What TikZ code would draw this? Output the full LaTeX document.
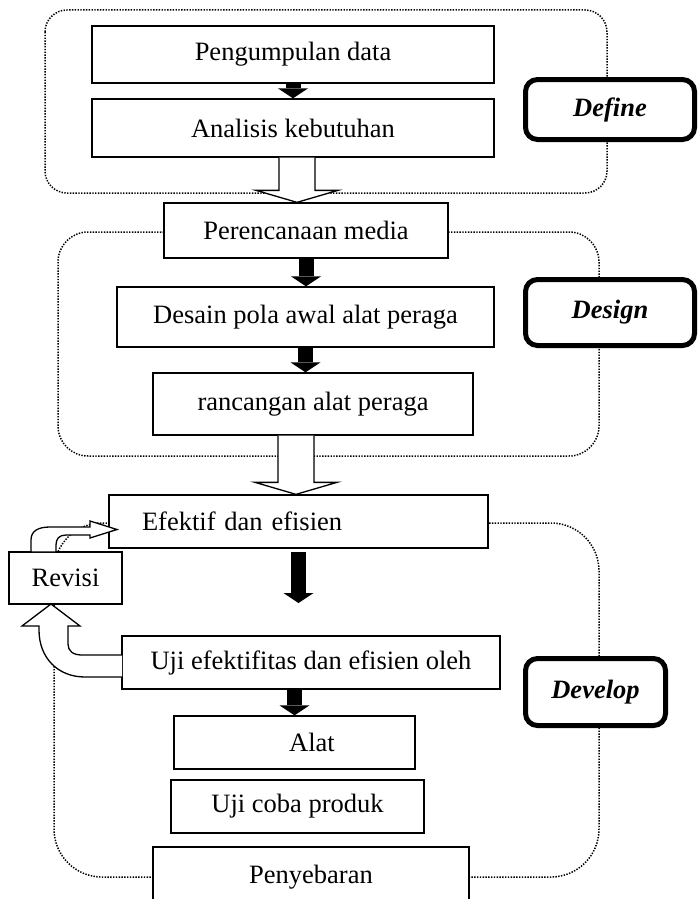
\documentclass[tikz,border=0pt]{standalone}
\usepackage{fontspec}
\setmainfont{Liberation Serif}
\usetikzlibrary{calc,arrows.meta}

% hollow block arrow: from, to, x shift
\newcommand{\blockarrow}[3]{%
  \draw[hollow arrow] ($(#1)+(#3-18,0)$) -- ($(#1 |- #2)+(#3-18,-12)$) -- ($(#1 |- #2)+(#3-41,-12)$)
    -- ($(#1 |- #2)+(#3,0)$) -- ($(#1 |- #2)+(#3+41,-12)$) -- ($(#1 |- #2)+(#3+18,-12)$) -- ($(#1)+(#3+18,0)$);}

\begin{document}
\begin{tikzpicture}[x=1pt,y=-1pt]
        % Styles
        \tikzstyle{process box}=[draw,line width=1.3pt,fill=white,minimum height=55pt,inner sep=2pt,font=\fontsize{26.5}{30}\selectfont]
        \tikzstyle{phase box}=[draw,line width=5pt,rounded corners=12pt,fill=white,font=\fontsize{26.5}{30}\selectfont\bfseries\itshape]
        \tikzstyle{phase group}=[line width=1.5pt,dash pattern=on 1.4pt off 1.4pt]
        \tikzstyle{solid arrow}=[line width=15pt,-{Triangle[length=10pt,width=30pt,line width=0pt]}]
        \tikzstyle{hollow arrow}=[draw,line width=1.3pt,fill=white]
        \useasboundingbox (0,0) rectangle (698,899);
        \clip (0,0) rectangle (698,899);
        %groups
        \draw[phase group,rounded corners=22pt] (45,10) rectangle (607,193);
        \draw[phase group,rounded corners=30pt] (58,232) rectangle (599,456);
        \draw[phase group,rounded corners=48pt] (54,523) rectangle (599,877);
        %steps
        \node[process box,minimum width=402pt,minimum height=57pt] (pengumpulan) at (293,54.5) {Pengumpulan data};
        \node[process box,minimum width=402pt,minimum height=58pt] (analisis) at (293,128) {Analisis kebutuhan};
        \node[process box,minimum width=284pt] (perencanaan) at (306,230.5) {Perencanaan media};
        \node[process box,minimum width=377pt,minimum height=60pt] (desain) at (305.5,317) {Desain pola awal alat peraga};
        \node[process box,minimum width=320pt,minimum height=62pt] (rancangan) at (313,404) {rancangan alat peraga};
        \node[process box,minimum width=379pt,minimum height=53pt,text width=313pt,inner xsep=33pt,align=left] (efektif) at (298.5,521.5) {Efektif dan efisien};
        \node[process box,minimum width=113pt,minimum height=52pt] (revisi) at (65.5,578) {Revisi};
        \node[process box,minimum width=378pt,minimum height=53pt] (ujiefektifitas) at (311,662.5) {Uji efektifitas dan efisien oleh};
        \node[process box,minimum width=241pt,minimum height=53pt] (alat) at (294.5,742.5) {\hspace*{35pt}Alat};
        \node[process box,minimum width=253pt,minimum height=53pt] (ujicoba) at (297.5,806.5) {Uji coba produk};
        \node[process box,minimum width=316pt,minimum height=60pt] (penyebaran) at (311,877) {Penyebaran};
        %phases
        \node[phase box,minimum width=169pt,minimum height=60pt] (define) at (610,109.5) {Define};
        \node[phase box,minimum width=169pt,minimum height=66pt] (design) at (610,312.5) {Design};
        \node[phase box,minimum width=140pt,minimum height=67pt] (develop) at (595.5,692) {Develop};
        %arrows
        \coordinate (efektif start) at (298.5,552);
        \coordinate (efektif end) at (298.5,603);
        \draw[solid arrow] (pengumpulan.south) -- (analisis.north);
        \draw[solid arrow] (perencanaan.south) -- (perencanaan.south |- desain.north);
        \draw[solid arrow] (desain.south) -- (desain.south |- rancangan.north);
        \draw[solid arrow] (efektif start) -- (efektif end);
        \draw[solid arrow] (ujiefektifitas.south -| alat.north) -- (alat.north);
        \blockarrow{analisis.south}{perencanaan.north}{4}
        \blockarrow{rancangan.south}{efektif.north}{-17}
        %revisi loop
        \draw[hollow arrow] (122,677) -- (85,677) .. controls (58,677) and (39,658) .. (39,630) -- (39,626) -- (22,626) -- (51,604)
            -- (80,626) -- (68,626) -- (68,644) .. controls (68,651) and (73,655) .. (82,655) -- (122,655);
        \draw[hollow arrow] (31,552) -- (31,540) .. controls (31,531) and (38,527) .. (50,527) -- (90,527) -- (90,521) -- (117,529.5)
            -- (90,538) -- (90,535) -- (66,535) .. controls (59,535) and (56,539) .. (56,545) -- (56,552) -- cycle;
\end{tikzpicture}
\end{document}
